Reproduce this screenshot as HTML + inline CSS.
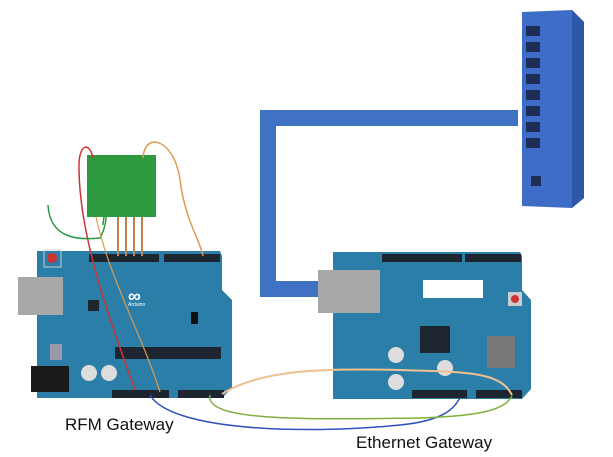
<!DOCTYPE html><html><head><style>body{margin:0;background:#fff}svg{display:block}text{font-family:"Liberation Sans",sans-serif}</style></head><body>
<svg width="613" height="457" viewBox="0 0 613 457">
<!-- cable -->
<path d="M518 118 H268 V289 H322" fill="none" stroke="#3f72c2" stroke-width="16"/>
<!-- switch -->
<polygon points="522,12 572,10 584,22 584,198 572,208 522,206" fill="#3d6dc6"/>
<polygon points="572,10 584,22 584,198 572,208" fill="#2d58a8"/>
<g fill="#1e2d55">
<rect x="526" y="26" width="14" height="10"/><rect x="526" y="42" width="14" height="10"/><rect x="526" y="58" width="14" height="10"/><rect x="526" y="74" width="14" height="10"/><rect x="526" y="90" width="14" height="10"/><rect x="526" y="106" width="14" height="10"/><rect x="526" y="122" width="14" height="10"/><rect x="526" y="138" width="14" height="10"/>
<rect x="531" y="176" width="10" height="10"/></g>
<!-- left board -->
<path d="M37 251 H220 L222 256 V290 L232 300 V388 L222 398 H37 Z" fill="#2a7ea8"/>
<rect x="18" y="277" width="45" height="38" fill="#a8a8a8"/>
<rect x="31" y="366" width="38" height="26" fill="#1a1a1a"/>
<rect x="115" y="347" width="106" height="12" fill="#1c2530"/>
<rect x="89" y="254" width="70" height="8" fill="#1c2530"/><rect x="164" y="254" width="56" height="8" fill="#1c2530"/>
<rect x="112" y="390" width="57" height="8" fill="#1c2530"/><rect x="178" y="390" width="46" height="8" fill="#1c2530"/>
<circle cx="52" cy="258" r="5" fill="#c33"/><rect x="44" y="250" width="17" height="17" fill="none" stroke="#ccc"/>
<circle cx="89" cy="373" r="8" fill="#ddd"/><circle cx="109" cy="373" r="8" fill="#ddd"/>
<rect x="88" y="300" width="11" height="11" fill="#1c2530"/>
<text x="128" y="302" fill="#fff" font-size="18" font-weight="bold">∞</text>
<text x="128" y="306" fill="#fff" font-size="5">Arduino</text>
<rect x="191" y="312" width="7" height="12" fill="#111"/>
<rect x="50" y="344" width="12" height="16" fill="#99a"/>
<!-- right board -->
<path d="M333 252 H520 L522 256 V290 L531 300 V389 L522 399 H333 Z" fill="#2a7ea8"/>
<rect x="318" y="270" width="62" height="43" fill="#a8a8a8"/>
<rect x="420" y="326" width="30" height="27" fill="#1c2530"/>
<rect x="423" y="280" width="60" height="18" fill="#fff"/>
<rect x="487" y="336" width="28" height="32" fill="#777"/>
<rect x="508" y="292" width="14" height="14" fill="#ccc"/><circle cx="515" cy="299" r="4" fill="#c33"/>
<rect x="382" y="254" width="80" height="8" fill="#1c2530"/><rect x="465" y="254" width="56" height="8" fill="#1c2530"/>
<rect x="412" y="390" width="55" height="8" fill="#1c2530"/><rect x="476" y="390" width="46" height="8" fill="#1c2530"/>
<circle cx="396" cy="355" r="8" fill="#ddd"/><circle cx="396" cy="382" r="8" fill="#ddd"/><circle cx="445" cy="368" r="8" fill="#ddd"/>
<!-- RFM module -->
<rect x="87" y="155" width="69" height="62" fill="#2e9a40"/>
<g stroke="#c8804a" stroke-width="2"><line x1="118" y1="217" x2="118" y2="256"/><line x1="126" y1="217" x2="126" y2="256"/><line x1="134" y1="217" x2="134" y2="256"/><line x1="142" y1="217" x2="142" y2="256"/></g>
<!-- wires -->
<path d="M93 158 C90 142 78 142 79 170 C80 240 110 320 135 390" fill="none" stroke="#c33" stroke-width="1.5"/>
<path d="M48 205 C50 240 80 240 100 238 C110 220 105 200 103 225" fill="none" stroke="#2a9a40" stroke-width="1.5"/>
<path d="M143 158 C145 130 175 140 180 180 C185 220 200 240 203 256" fill="none" stroke="#e09a50" stroke-width="1.5"/>
<path d="M96 217 C110 280 140 330 160 392" fill="none" stroke="#e09a50" stroke-width="1.2"/>
<path d="M150 395 C170 430 300 435 400 425 C450 420 455 405 460 398" fill="none" stroke="#3050c0" stroke-width="1.5"/>
<path d="M210 395 C205 420 290 420 420 418 C480 416 505 410 512 396" fill="none" stroke="#80b040" stroke-width="1.5"/>
<path d="M222 394 C260 370 320 368 400 370 C470 372 500 372 512 395" fill="none" stroke="#f0c090" stroke-width="2"/>
<text x="65" y="430" font-size="17" fill="#111">RFM Gateway</text>
<text x="356" y="448" font-size="17" fill="#111">Ethernet Gateway</text>
</svg></body></html>
